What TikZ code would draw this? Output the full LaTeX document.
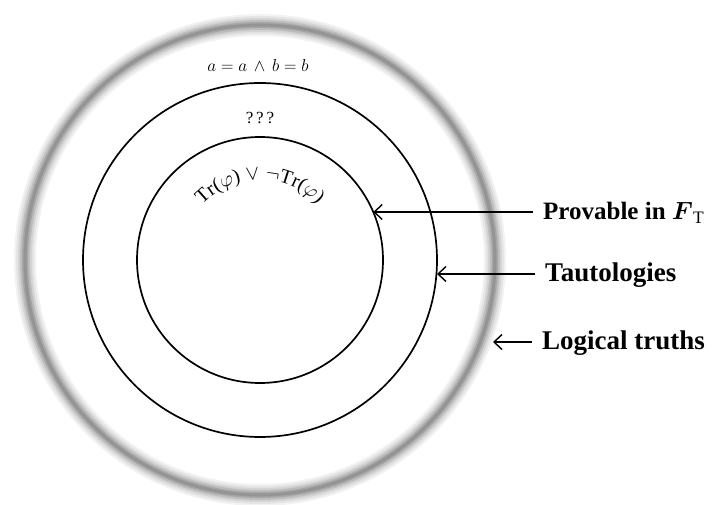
\documentclass[tikz,border=0pt]{standalone}
\usepackage{amsmath}
\usepackage{amssymb}
\usepackage{fontspec}
\setmainfont{Liberation Serif}
\usetikzlibrary{positioning,arrows.meta,decorations.text}
\tikzstyle{diagram} = [x = 1pt, y = -1pt]
\tikzstyle{setCircle} = [circle, draw=black, line width=1.7pt, inner sep=0pt, outer sep=0pt]
\tikzstyle{setLabel} = [anchor=west, inner sep=0pt, text height=16pt, text depth=0pt, font=\fontsize{27}{30}\selectfont\bfseries]
\tikzstyle{pointer} = [line width=1.4pt, shorten <= 10pt, -{Straight Barb[length=8pt, width=15pt, line width=1.4pt]}]
\tikzstyle{handText} = [inner sep=0pt, font=\fontsize{17}{19}\selectfont]
\newcommand{\blurRing}[2]{
  \foreach \w/\c in {22/5, 18/10, 14/17, 10/26, 6/35, 3/42} {
    \draw [line width=\w pt, color=black!\c] (#1) circle (#2);
  }
}

\begin{document}
\begin{tikzpicture}[diagram]
  \useasboundingbox (0,0) rectangle (713,505);
  \coordinate (centre) at (260,260);
  \blurRing{centre}{235pt}
  \node [setCircle, minimum size=354pt] (middle) at (centre) {};
  \node [setCircle, minimum size=246pt] (inner) at (centre) {};

  \node [handText] (truthText) at (258,66) {$a=a \,\wedge\, b=b$};
  \node [handText] (unknownText) at (260,118) {?\,?\,?};
  \path [decorate, decoration={text along path, text align=center,
      text={|\fontsize{20}{22}\selectfont|Tr({$\varphi$}) {$\vee$} {$\neg$}Tr({$\varphi$})}}]
    (centre) ++(170:80pt) arc [start angle=170, end angle=10, radius=80pt];

  \node [setLabel, font=\fontsize{25}{28}\selectfont\bfseries] (provable) at (543,212) {Provable in $\boldsymbol{F}_{\mathrm{T}}$};
  \node [setLabel] (tautologies) at (545,274) {Tautologies};
  \node [setLabel] (logical) at (542,342) {Logical truths};
  \coordinate (logicalTip) at (493,342);

  \draw [pointer] (provable.west) -- (provable.west -| inner.23);
  \draw [pointer] (tautologies.west) -- (tautologies.west -| middle.east);
  \draw [pointer] (logical.west) -- (logicalTip);
\end{tikzpicture}
\end{document}
